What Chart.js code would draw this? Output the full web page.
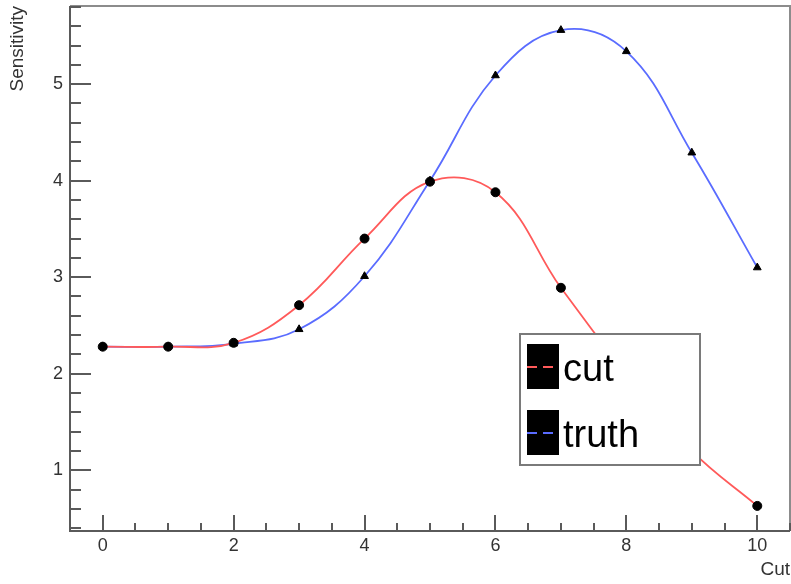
<!DOCTYPE html>
<html>
<head>
<meta charset="utf-8">
<script src="https://cdn.jsdelivr.net/npm/chart.js@4"></script>
<style>
  html, body { margin: 0; padding: 0; background: #fff; }
</style>
</head>
<body>
<canvas id="sensChart" width="791" height="584"></canvas>
<script>
// cut value vs. sensitivity for the two selections
const cuts = [0, 1, 2, 3, 4, 5, 6, 7, 8, 9, 10];
const cutSens = [2.28, 2.28, 2.32, 2.71, 3.40, 3.99, 3.88, 2.89, 2.00, 1.20, 0.63];
const truthSens = [2.28, 2.28, 2.31, 2.46, 3.01, 4.00, 5.09, 5.56, 5.34, 4.29, 3.10];
const xTicks = [0, 2, 4, 6, 8, 10];
const yTicks = [1, 2, 3, 4, 5];

const axisFont = { family: 'Liberation Sans, Arial, sans-serif', size: 18 };
const titleFont = { family: 'Liberation Sans, Arial, sans-serif', size: 19 };

// ROOT-style frame: inward major/minor ticks, grey box
const rootFrame = {
  id: 'rootFrame',
  afterDatasetsDraw(chart) {
    const ctx = chart.ctx;
    const a = chart.chartArea;
    const xs = chart.scales.x, ys = chart.scales.y;
    ctx.save();
    ctx.lineCap = 'butt';

    // top / right border
    ctx.strokeStyle = '#8c8c8c';
    ctx.lineWidth = 2;
    ctx.beginPath();
    ctx.moveTo(a.left, a.top);
    ctx.lineTo(a.right, a.top);
    ctx.lineTo(a.right, a.bottom);
    ctx.stroke();

    ctx.strokeStyle = '#5a5a5a';
    ctx.lineWidth = 2;
    ctx.beginPath();
    // x ticks
    const xMinor = (xTicks[1] - xTicks[0]) / 4;
    for (let v = Math.ceil(xs.min / xMinor) * xMinor; v <= xs.max + 1e-9; v += xMinor) {
      const px = Math.round(xs.getPixelForValue(v));
      const major = xTicks.some(t => Math.abs(t - v) < 1e-6);
      ctx.moveTo(px, a.bottom);
      ctx.lineTo(px, a.bottom - (major ? 16 : 8));
    }
    // y ticks
    const yMinor = (yTicks[1] - yTicks[0]) / 5;
    for (let v = Math.ceil(ys.min / yMinor) * yMinor; v <= ys.max + 1e-9; v += yMinor) {
      const py = Math.round(ys.getPixelForValue(v));
      const major = yTicks.some(t => Math.abs(t - v) < 1e-6);
      ctx.moveTo(a.left, py);
      ctx.lineTo(a.left + (major ? 21 : 11), py);
    }
    ctx.stroke();

    // axis lines
    ctx.beginPath();
    ctx.moveTo(a.left, a.top);
    ctx.lineTo(a.left, a.bottom);
    ctx.lineTo(a.right, a.bottom);
    ctx.stroke();
    ctx.restore();
  }
};

// boxed legend inside the pad
const boxLegend = {
  id: 'boxLegend',
  afterDraw(chart) {
    const ctx = chart.ctx;
    const bx = 520, by = 334, bw = 180, bh = 131;
    ctx.save();
    ctx.fillStyle = '#fff';
    ctx.fillRect(bx, by, bw, bh);
    ctx.strokeStyle = '#7a7a7a';
    ctx.lineWidth = 2;
    ctx.strokeRect(bx, by, bw, bh);

    chart.data.datasets.forEach((ds, i) => {
      const top = by + 10 + i * 66;
      ctx.fillStyle = '#000';
      ctx.fillRect(bx + 7, top, 32, 45);
      ctx.strokeStyle = ds.borderColor;
      ctx.lineWidth = 2;
      ctx.setLineDash([10, 6]);
      ctx.beginPath();
      ctx.moveTo(bx + 7, top + 23);
      ctx.lineTo(bx + 39, top + 23);
      ctx.stroke();
      ctx.setLineDash([]);
      ctx.fillStyle = '#000';
      ctx.font = '38px Liberation Sans, Arial, sans-serif';
      ctx.textBaseline = 'alphabetic';
      ctx.fillText(ds.label, bx + 43, top + 37);
    });
    ctx.restore();
  }
};

new Chart(document.getElementById('sensChart'), {
  type: 'line',
  data: {
    datasets: [
      {
        label: 'cut',
        data: cuts.map((c, i) => ({ x: c, y: cutSens[i] })),
        borderColor: '#ff5a5a',
        borderWidth: 1.8,
        tension: 0.4,
        pointStyle: 'circle',
        pointRadius: 4.5,
        pointBackgroundColor: '#000',
        pointBorderColor: '#000',
        pointBorderWidth: 1
      },
      {
        label: 'truth',
        data: cuts.map((c, i) => ({ x: c, y: truthSens[i] })),
        borderColor: '#5a6cff',
        borderWidth: 1.8,
        tension: 0.4,
        pointStyle: 'triangle',
        pointRadius: 4.5,
        pointBackgroundColor: '#000',
        pointBorderColor: '#000',
        pointBorderWidth: 1
      }
    ]
  },
  options: {
    responsive: false,
    animation: false,
    devicePixelRatio: 1,
    layout: { autoPadding: false, padding: { top: 6, right: 1, left: 0, bottom: 0 } },
    plugins: {
      legend: { display: false },
      tooltip: { enabled: false }
    },
    scales: {
      x: {
        type: 'linear',
        min: -0.5,
        max: 10.5,
        grid: { display: false, drawTicks: false },
        border: { display: false },
        afterBuildTicks: s => { s.ticks = xTicks.map(v => ({ value: v })); },
        afterFit: s => { s.height = 53; s.paddingLeft = 0; s.paddingRight = 0; },
        ticks: { font: axisFont, color: '#333', padding: 4, maxRotation: 0, callback: v => v },
        title: {
          display: true, text: 'Cut', align: 'end',
          font: titleFont, color: '#333', padding: { top: 0, bottom: 3 }
        }
      },
      y: {
        min: 0.37,
        max: 5.81,
        grid: { display: false, drawTicks: false },
        border: { display: false },
        afterBuildTicks: s => { s.ticks = yTicks.map(v => ({ value: v })); },
        afterFit: s => { s.width = 70; s.paddingTop = 0; s.paddingBottom = 0; },
        ticks: { font: axisFont, color: '#333', padding: 7, callback: v => v },
        title: {
          display: true, text: 'Sensitivity', align: 'end',
          font: titleFont, color: '#333', padding: { top: 6, bottom: 0 }
        }
      }
    }
  },
  plugins: [rootFrame, boxLegend]
});
</script>
</body>
</html>
